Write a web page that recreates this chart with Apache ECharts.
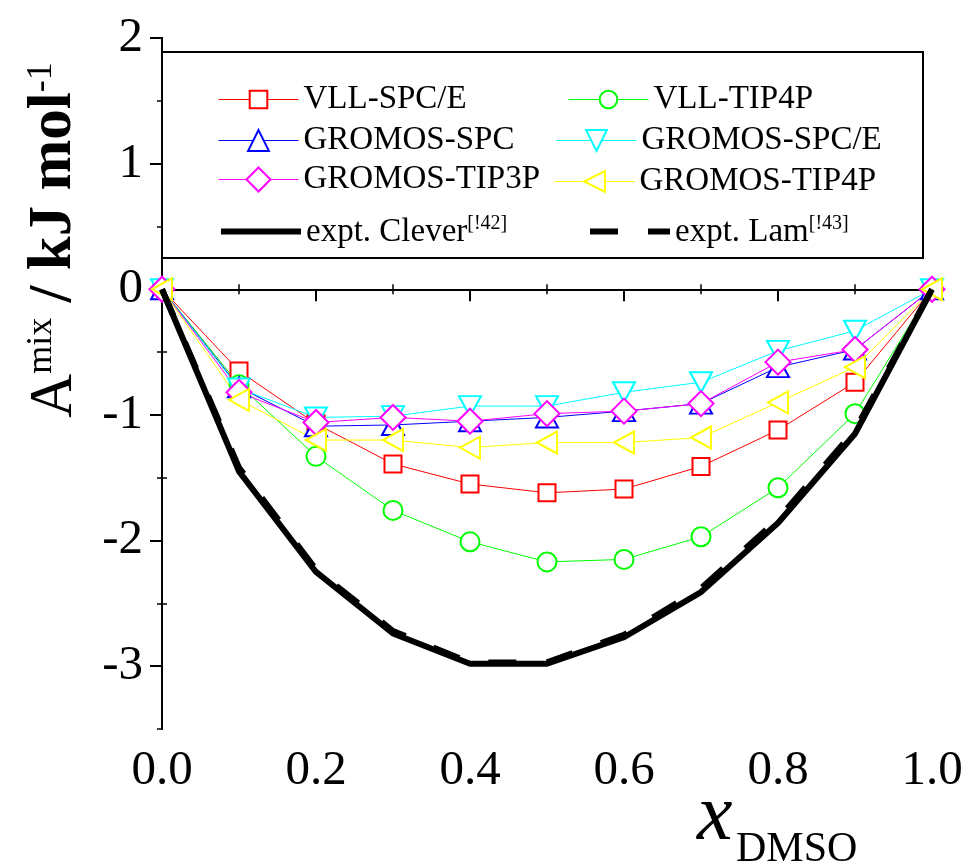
<!DOCTYPE html>
<html>
<head>
<meta charset="utf-8">
<script src="https://cdn.jsdelivr.net/npm/echarts@6/dist/echarts.min.js"></script>
<style>
html, body { margin: 0; padding: 0; background: #fff; }
#main { width: 968px; height: 867px; }
</style>
</head>
<body>
<div id="main"></div>
<script>
var xDmso = [0, 0.1, 0.2, 0.3, 0.4, 0.5, 0.6, 0.7, 0.8, 0.9, 1.0];
var vllSpce = [0, -0.65, -1.07, -1.39, -1.55, -1.62, -1.59, -1.41, -1.12, -0.74, 0];
var vllTip4p = [0, -0.76, -1.33, -1.76, -2.01, -2.17, -2.15, -1.97, -1.58, -0.99, 0];
var gromosSpc = [0, -0.78, -1.09, -1.08, -1.05, -1.02, -0.97, -0.91, -0.62, -0.48, 0];
var gromosSpce = [0, -0.79, -1.02, -1.01, -0.93, -0.93, -0.82, -0.74, -0.49, -0.33, 0];
var gromosTip3p = [0, -0.82, -1.06, -1.02, -1.05, -0.99, -0.97, -0.91, -0.58, -0.48, 0];
var gromosTip4p = [0, -0.88, -1.20, -1.20, -1.26, -1.22, -1.22, -1.18, -0.90, -0.62, 0];
var exptClever = [0, -1.45, -2.25, -2.74, -2.98, -2.98, -2.77, -2.41, -1.86, -1.15, 0];
var exptLam = [0, -1.42, -2.23, -2.72, -2.97, -2.97, -2.75, -2.38, -1.83, -1.12, 0];
var xTicks = [0, 0.2, 0.4, 0.6, 0.8, 1.0];
var xMinor = [0.1, 0.3, 0.5, 0.7, 0.9];
var yTicks = [-3, -2, -1, 0, 1, 2];
var yMinor = [-2.5, -1.5, -0.5, 0.5, 1.5];

var serif = 'Liberation Serif';

function pairs(ys) {
    return xDmso.map(function (x, i) { return [x, ys[i]]; });
}

function markerSeries(name, ys, color, symbol, size, rotate) {
    return {
        name: name,
        type: 'line',
        data: pairs(ys),
        symbol: symbol,
        symbolSize: size,
        symbolRotate: rotate || 0,
        showAllSymbol: true,
        lineStyle: { color: color, width: 1 },
        itemStyle: { color: '#fff', borderColor: color, borderWidth: 2 },
        emphasis: { disabled: true },
        animation: false,
        z: 2
    };
}

var series = [
    markerSeries('VLL-SPC/E', vllSpce, '#ff0000', 'rect', 17),
    markerSeries('VLL-TIP4P', vllTip4p, '#00ff00', 'circle', 19),
    markerSeries('GROMOS-SPC', gromosSpc, '#0000ff', 'triangle', [22, 20]),
    markerSeries('GROMOS-SPC/E', gromosSpce, '#00ffff', 'triangle', [22, 20], 180),
    markerSeries('GROMOS-TIP3P', gromosTip3p, '#ff00ff', 'diamond', [25, 25]),
    markerSeries('GROMOS-TIP4P', gromosTip4p, '#ffff00', 'triangle', [22, 20], 90),
    {
        name: 'expt. Clever', type: 'line', data: pairs(exptClever), symbol: 'none',
        lineStyle: { color: '#000', width: 6 }, emphasis: { disabled: true }, animation: false, z: 3
    },
    {
        name: 'expt. Lam', type: 'line', data: pairs(exptLam), symbol: 'none',
        lineStyle: { color: '#000', width: 6, type: [28, 30] }, emphasis: { disabled: true }, animation: false, z: 3
    }
];

// one legend per entry so the two columns sit where they do in the figure
var legendSpots = [
    ['VLL-SPC/E', 218, 94, 22, 1],
    ['GROMOS-SPC', 218, 137, 26, 1],
    ['GROMOS-TIP3P', 218, 178, 30, 1],
    ['expt. Clever', 218, 225, 22, 6],
    ['VLL-TIP4P', 568, 94, 22, 1],
    ['GROMOS-SPC/E', 556, 137, 26, 1],
    ['GROMOS-TIP4P', 554, 178, 26, 1],
    ['expt. Lam', 587, 225, 22, 6]
];
var refs = { 'expt. Clever': '[!42]', 'expt. Lam': '[!43]' };

var legends = legendSpots.map(function (s) {
    var lg = {
        data: [s[0]],
        left: s[1],
        top: s[2] - s[3] / 2,
        padding: 0,
        itemWidth: 80,
        itemHeight: s[3],
        selectedMode: false,
        lineStyle: { width: s[4] },
        z: 5,
        textStyle: {
            fontFamily: serif, fontSize: 33, color: '#000',
            rich: {
                n: { fontFamily: serif, fontSize: 33, color: '#000', verticalAlign: 'bottom', lineHeight: 35 },
                s: { fontFamily: serif, fontSize: 20, color: '#000', verticalAlign: 'top', lineHeight: 20 }
            }
        },
        formatter: function (name) {
            return refs[name] ? '{n|' + name + '}{s|' + refs[name] + '}' : name;
        }
    };
    if (refs[s[0]]) {
        lg.itemStyle = { color: 'rgba(0,0,0,0)', borderWidth: 0, opacity: 0 };
    }
    return lg;
});

var chart = echarts.init(document.getElementById('main'));
var option = {
    backgroundColor: '#fff',
    animation: false,
    textStyle: { fontFamily: serif },
    grid: { left: 162, right: 36, top: 38, bottom: 138 },
    legend: legends,
    xAxis: [
        {
            type: 'value', position: 'bottom', min: 0, max: 1,
            axisLine: { lineStyle: { color: '#000', width: 2 } },
            axisTick: { customValues: xTicks, length: 12, lineStyle: { color: '#000', width: 2 } },
            axisLabel: {
                customValues: xTicks, margin: 18, color: '#000', fontSize: 49, fontFamily: serif,
                formatter: function (v) { return v.toFixed(1); }
            },
            splitLine: { show: false }
        },
        {
            type: 'value', position: 'bottom', min: 0, max: 1,
            axisLine: { show: false },
            axisTick: { customValues: xMinor, inside: true, length: 5, lineStyle: { color: '#000', width: 1.5 } },
            axisLabel: { show: false },
            splitLine: { show: false }
        },
        {
            type: 'value', position: 'top', min: 0, max: 1, interval: 0.1,
            axisLine: { lineStyle: { color: '#000', width: 2 } },
            axisTick: { inside: true, length: 5, lineStyle: { color: '#000', width: 1.5 } },
            axisLabel: { show: false },
            splitLine: { show: false }
        }
    ],
    yAxis: [
        {
            type: 'value', position: 'left', min: -3.5, max: 2,
            axisLine: { lineStyle: { color: '#000', width: 2 } },
            axisTick: { customValues: yTicks, length: 12, lineStyle: { color: '#000', width: 2 } },
            axisLabel: { customValues: yTicks, margin: 19, color: '#000', fontSize: 49, fontFamily: serif },
            splitLine: { show: false }
        },
        {
            type: 'value', position: 'left', min: -3.5, max: 2,
            axisLine: { show: false },
            axisTick: { customValues: yMinor, inside: true, length: 5, lineStyle: { color: '#000', width: 1.5 } },
            axisLabel: { show: false },
            splitLine: { show: false }
        },
        {
            type: 'value', position: 'right', min: -3.5, max: 2, interval: 0.5,
            axisLine: { lineStyle: { color: '#000', width: 2 } },
            axisTick: { inside: true, length: 5, lineStyle: { color: '#000', width: 1.5 } },
            axisLabel: { show: false },
            splitLine: { show: false }
        }
    ],
    graphic: [
        {
            type: 'rect', z: 3,
            shape: { x: 162, y: 52, width: 761, height: 206 },
            style: { fill: '#fff', stroke: '#000', lineWidth: 2 }
        },
        {
            type: 'text', x: 85, y: 240, rotation: Math.PI / 2, z: 5,
            style: {
                text: '{a|A}{s|mix}{b| / kJ mol}{s|-1}',
                align: 'center', verticalAlign: 'bottom',
                fontFamily: serif,
                rich: {
                    a: { fontFamily: serif, fontSize: 61, fill: '#000', lineHeight: 61, verticalAlign: 'bottom' },
                    b: { fontFamily: serif, fontSize: 61, fontWeight: 'bold', fill: '#000', lineHeight: 61, verticalAlign: 'bottom' },
                    s: { fontFamily: serif, fontSize: 36, fill: '#000', lineHeight: 36, verticalAlign: 'top' }
                }
            }
        },
        {
            type: 'text', x: 697, y: 858, z: 5,
            style: { text: 'x', fontFamily: serif, fontStyle: 'italic', fontSize: 80, fill: '#000', verticalAlign: 'bottom' }
        },
        {
            type: 'text', x: 736, y: 871, z: 5,
            style: { text: 'DMSO', fontFamily: serif, fontSize: 42, fill: '#000', verticalAlign: 'bottom' }
        }
    ],
    series: series
};
option.series.forEach(function (s) { s.xAxisIndex = 0; s.yAxisIndex = 0; });
chart.setOption(option);
</script>
</body>
</html>
